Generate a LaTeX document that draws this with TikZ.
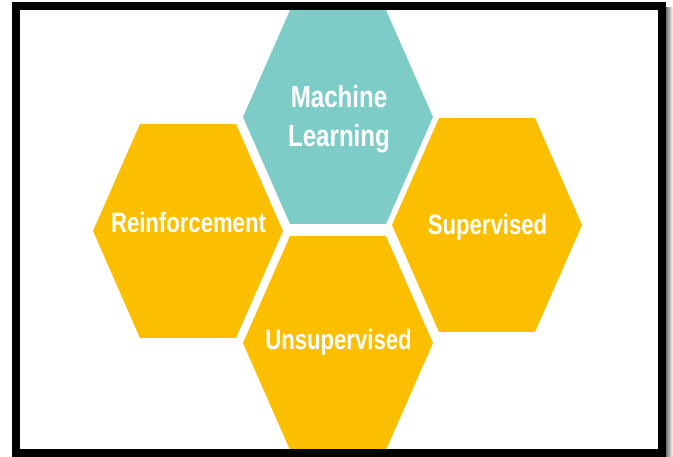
\documentclass[tikz,border=0pt]{standalone}
\usepackage{fontspec}
\setmainfont{Liberation Sans}[FakeStretch=0.79]
\usetikzlibrary{calc}
\definecolor{tealhex}{RGB}{126,204,199}
\definecolor{yellowhex}{RGB}{252,191,0}
\tikzset{
  hexlabel/.style={text=white,font=\bfseries\fontsize{28}{38}\selectfont,inner sep=0pt,anchor=base,align=center},
}
\newcommand{\hexat}[3]{% center x, center y, colour
  \fill[#3] (#1-95,#2) -- (#1-48,#2-107) -- (#1+48,#2-107) -- (#1+95,#2) -- (#1+48,#2+107) -- (#1-48,#2+107) -- cycle;}
\begin{document}
\begin{tikzpicture}[x=1pt,y=-1pt]
\useasboundingbox (0,0) rectangle (673,457);
\fill[white] (0,0) rectangle (673,457);
% shadow on the right
\shade[left color=black!55,right color=white] (666,8) rectangle (673,457);
% hexagons
\hexat{338}{117}{tealhex}
\hexat{188}{231}{yellowhex}
\hexat{487}{225}{yellowhex}
\hexat{338}{343}{yellowhex}
% labels
\node[hexlabel,font=\bfseries\fontsize{30.5}{39}\selectfont] (ml) at (339,147) {Machine\\Learning};
\node[hexlabel] (re) at (188.5,233) {Reinforcement};
\node[hexlabel] (su) at (487.5,235) {Supervised};
\node[hexlabel] (un) at (338.5,350) {Unsupervised};
% frame
\draw[black,line width=8pt] (16,6.5) rectangle (662,453);
\end{tikzpicture}
\end{document}
